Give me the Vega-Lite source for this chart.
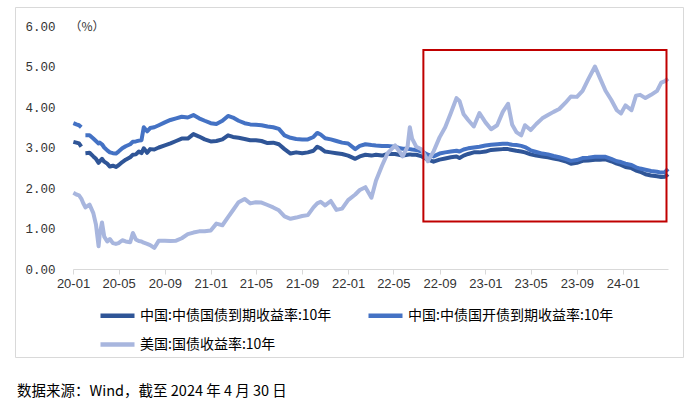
{
  "$schema": "https://vega.github.io/schema/vega-lite/v6.json",
  "width": 668,
  "height": 350,
  "padding": {"left": 15, "top": 7, "right": 17, "bottom": 0},
  "background": "white",
  "config": {
    "view": {"stroke": "#D9D9D9", "strokeWidth": 1},
    "font": "Noto Sans CJK SC"
  },
  "title": {
    "text": "数据来源：Wind，截至 2024 年 4 月 30 日",
    "orient": "bottom",
    "anchor": "start",
    "frame": "bounds",
    "offset": 28,
    "dx": 2,
    "fontSize": 14.5,
    "fontWeight": "normal",
    "font": "Noto Sans CJK SC",
    "color": "#000000"
  },
  "layer": [
    {
      "data": {
        "values": [
          {"date": "2020-01-02", "cgb": 3.14, "cdb": 3.60, "ust": 1.88},
          {"date": "2020-01-10", "cgb": 3.12, "cdb": 3.57, "ust": 1.84},
          {"date": "2020-01-17", "cgb": 3.10, "cdb": 3.55, "ust": 1.82},
          {"date": "2020-01-23", "cgb": 3.02, "cdb": 3.50, "ust": 1.74},
          {"date": "2020-01-28", "cgb": null, "cdb": null, "ust": 1.63},
          {"date": "2020-02-03", "cgb": 2.86, "cdb": 3.30, "ust": 1.52},
          {"date": "2020-02-14", "cgb": 2.87, "cdb": 3.30, "ust": 1.59},
          {"date": "2020-02-24", "cgb": 2.78, "cdb": 3.22, "ust": 1.38},
          {"date": "2020-03-02", "cgb": 2.72, "cdb": 3.16, "ust": 1.10},
          {"date": "2020-03-09", "cgb": 2.62, "cdb": 3.10, "ust": 0.56},
          {"date": "2020-03-12", "cgb": 2.66, "cdb": 3.12, "ust": 0.85},
          {"date": "2020-03-18", "cgb": 2.72, "cdb": 3.08, "ust": 1.15},
          {"date": "2020-03-24", "cgb": 2.65, "cdb": 3.00, "ust": 0.80},
          {"date": "2020-04-01", "cgb": 2.60, "cdb": 2.93, "ust": 0.68},
          {"date": "2020-04-08", "cgb": 2.53, "cdb": 2.88, "ust": 0.74},
          {"date": "2020-04-16", "cgb": 2.55, "cdb": 2.86, "ust": 0.64},
          {"date": "2020-04-24", "cgb": 2.52, "cdb": 2.85, "ust": 0.62},
          {"date": "2020-05-01", "cgb": 2.56, "cdb": 2.90, "ust": 0.64},
          {"date": "2020-05-11", "cgb": 2.64, "cdb": 2.98, "ust": 0.71},
          {"date": "2020-05-20", "cgb": 2.70, "cdb": 3.03, "ust": 0.68},
          {"date": "2020-06-01", "cgb": 2.76, "cdb": 3.08, "ust": 0.66},
          {"date": "2020-06-08", "cgb": 2.82, "cdb": 3.14, "ust": 0.89},
          {"date": "2020-06-16", "cgb": 2.83, "cdb": 3.15, "ust": 0.73},
          {"date": "2020-06-24", "cgb": 2.90, "cdb": 3.17, "ust": 0.69},
          {"date": "2020-07-01", "cgb": 2.86, "cdb": 3.18, "ust": 0.68},
          {"date": "2020-07-07", "cgb": 2.98, "cdb": 3.50, "ust": 0.65},
          {"date": "2020-07-16", "cgb": 2.87, "cdb": 3.40, "ust": 0.62},
          {"date": "2020-07-24", "cgb": 2.96, "cdb": 3.48, "ust": 0.59},
          {"date": "2020-08-04", "cgb": 2.95, "cdb": 3.50, "ust": 0.52},
          {"date": "2020-08-16", "cgb": 3.00, "cdb": 3.55, "ust": 0.70},
          {"date": "2020-09-01", "cgb": 3.05, "cdb": 3.62, "ust": 0.70},
          {"date": "2020-09-16", "cgb": 3.10, "cdb": 3.68, "ust": 0.69},
          {"date": "2020-10-01", "cgb": 3.16, "cdb": 3.72, "ust": 0.70},
          {"date": "2020-10-16", "cgb": 3.22, "cdb": 3.76, "ust": 0.76},
          {"date": "2020-11-01", "cgb": 3.22, "cdb": 3.74, "ust": 0.86},
          {"date": "2020-11-16", "cgb": 3.33, "cdb": 3.80, "ust": 0.90},
          {"date": "2020-12-01", "cgb": 3.27, "cdb": 3.72, "ust": 0.93},
          {"date": "2020-12-16", "cgb": 3.20, "cdb": 3.66, "ust": 0.93},
          {"date": "2021-01-01", "cgb": 3.15, "cdb": 3.60, "ust": 0.95},
          {"date": "2021-01-16", "cgb": 3.16, "cdb": 3.58, "ust": 1.12},
          {"date": "2021-02-01", "cgb": 3.20, "cdb": 3.66, "ust": 1.08},
          {"date": "2021-02-16", "cgb": 3.30, "cdb": 3.78, "ust": 1.28},
          {"date": "2021-03-01", "cgb": 3.26, "cdb": 3.74, "ust": 1.45},
          {"date": "2021-03-16", "cgb": 3.24, "cdb": 3.66, "ust": 1.65},
          {"date": "2021-04-01", "cgb": 3.21, "cdb": 3.60, "ust": 1.73},
          {"date": "2021-04-16", "cgb": 3.18, "cdb": 3.57, "ust": 1.62},
          {"date": "2021-05-01", "cgb": 3.18, "cdb": 3.56, "ust": 1.65},
          {"date": "2021-05-16", "cgb": 3.16, "cdb": 3.55, "ust": 1.64},
          {"date": "2021-06-01", "cgb": 3.11, "cdb": 3.52, "ust": 1.58},
          {"date": "2021-06-16", "cgb": 3.12, "cdb": 3.50, "ust": 1.52},
          {"date": "2021-07-01", "cgb": 3.08, "cdb": 3.46, "ust": 1.45},
          {"date": "2021-07-16", "cgb": 2.96, "cdb": 3.30, "ust": 1.30},
          {"date": "2021-08-01", "cgb": 2.85, "cdb": 3.24, "ust": 1.24},
          {"date": "2021-08-16", "cgb": 2.88, "cdb": 3.21, "ust": 1.27},
          {"date": "2021-09-01", "cgb": 2.86, "cdb": 3.20, "ust": 1.31},
          {"date": "2021-09-16", "cgb": 2.88, "cdb": 3.20, "ust": 1.33},
          {"date": "2021-10-01", "cgb": 2.92, "cdb": 3.26, "ust": 1.52},
          {"date": "2021-10-11", "cgb": 3.02, "cdb": 3.36, "ust": 1.62},
          {"date": "2021-10-20", "cgb": 2.98, "cdb": 3.32, "ust": 1.66},
          {"date": "2021-11-01", "cgb": 2.90, "cdb": 3.23, "ust": 1.57},
          {"date": "2021-11-16", "cgb": 2.88, "cdb": 3.20, "ust": 1.68},
          {"date": "2021-12-01", "cgb": 2.86, "cdb": 3.16, "ust": 1.46},
          {"date": "2021-12-16", "cgb": 2.84, "cdb": 3.12, "ust": 1.49},
          {"date": "2022-01-01", "cgb": 2.80, "cdb": 3.10, "ust": 1.70},
          {"date": "2022-01-20", "cgb": 2.72, "cdb": 2.96, "ust": 1.84},
          {"date": "2022-02-01", "cgb": 2.78, "cdb": 3.04, "ust": 1.95},
          {"date": "2022-02-16", "cgb": 2.82, "cdb": 3.08, "ust": 2.02},
          {"date": "2022-03-04", "cgb": 2.80, "cdb": 3.06, "ust": 1.76},
          {"date": "2022-03-16", "cgb": 2.82, "cdb": 3.05, "ust": 2.18},
          {"date": "2022-04-01", "cgb": 2.80, "cdb": 3.04, "ust": 2.55},
          {"date": "2022-04-16", "cgb": 2.84, "cdb": 3.04, "ust": 2.86},
          {"date": "2022-05-06", "cgb": 2.84, "cdb": 3.02, "ust": 3.05},
          {"date": "2022-05-16", "cgb": 2.82, "cdb": 2.99, "ust": 2.92},
          {"date": "2022-05-26", "cgb": 2.80, "cdb": 2.97, "ust": 2.78},
          {"date": "2022-06-08", "cgb": 2.82, "cdb": 2.97, "ust": 3.02},
          {"date": "2022-06-14", "cgb": 2.83, "cdb": 2.96, "ust": 3.50},
          {"date": "2022-06-20", "cgb": 2.82, "cdb": 2.95, "ust": 3.22},
          {"date": "2022-07-01", "cgb": 2.82, "cdb": 2.94, "ust": 3.02},
          {"date": "2022-07-16", "cgb": 2.78, "cdb": 2.90, "ust": 2.95},
          {"date": "2022-08-01", "cgb": 2.70, "cdb": 2.82, "ust": 2.66},
          {"date": "2022-08-16", "cgb": 2.65, "cdb": 2.78, "ust": 2.90},
          {"date": "2022-09-01", "cgb": 2.70, "cdb": 2.85, "ust": 3.25},
          {"date": "2022-09-16", "cgb": 2.73, "cdb": 2.88, "ust": 3.50},
          {"date": "2022-10-01", "cgb": 2.76, "cdb": 2.90, "ust": 3.85},
          {"date": "2022-10-16", "cgb": 2.78, "cdb": 2.92, "ust": 4.22},
          {"date": "2022-10-24", "cgb": 2.74, "cdb": 2.90, "ust": 4.15},
          {"date": "2022-11-04", "cgb": 2.80, "cdb": 2.95, "ust": 3.82},
          {"date": "2022-11-16", "cgb": 2.84, "cdb": 2.98, "ust": 3.68},
          {"date": "2022-12-01", "cgb": 2.88, "cdb": 3.00, "ust": 3.52},
          {"date": "2022-12-16", "cgb": 2.88, "cdb": 3.02, "ust": 3.85},
          {"date": "2023-01-01", "cgb": 2.90, "cdb": 3.05, "ust": 3.62},
          {"date": "2023-01-16", "cgb": 2.94, "cdb": 3.07, "ust": 3.45},
          {"date": "2023-02-01", "cgb": 2.95, "cdb": 3.08, "ust": 3.55},
          {"date": "2023-02-16", "cgb": 2.96, "cdb": 3.09, "ust": 3.88},
          {"date": "2023-03-02", "cgb": 2.96, "cdb": 3.09, "ust": 4.08},
          {"date": "2023-03-13", "cgb": 2.94, "cdb": 3.07, "ust": 3.56},
          {"date": "2023-03-24", "cgb": 2.92, "cdb": 3.06, "ust": 3.38},
          {"date": "2023-04-06", "cgb": 2.90, "cdb": 3.04, "ust": 3.30},
          {"date": "2023-04-16", "cgb": 2.88, "cdb": 3.01, "ust": 3.55},
          {"date": "2023-05-01", "cgb": 2.83, "cdb": 2.93, "ust": 3.43},
          {"date": "2023-05-16", "cgb": 2.80, "cdb": 2.89, "ust": 3.58},
          {"date": "2023-06-01", "cgb": 2.78, "cdb": 2.85, "ust": 3.72},
          {"date": "2023-06-16", "cgb": 2.76, "cdb": 2.83, "ust": 3.80},
          {"date": "2023-07-01", "cgb": 2.73, "cdb": 2.79, "ust": 3.88},
          {"date": "2023-07-16", "cgb": 2.70, "cdb": 2.76, "ust": 3.95},
          {"date": "2023-08-01", "cgb": 2.66, "cdb": 2.72, "ust": 4.10},
          {"date": "2023-08-16", "cgb": 2.60, "cdb": 2.67, "ust": 4.26},
          {"date": "2023-09-01", "cgb": 2.62, "cdb": 2.69, "ust": 4.25},
          {"date": "2023-09-16", "cgb": 2.67, "cdb": 2.74, "ust": 4.40},
          {"date": "2023-10-01", "cgb": 2.68, "cdb": 2.75, "ust": 4.68},
          {"date": "2023-10-19", "cgb": 2.70, "cdb": 2.77, "ust": 5.00},
          {"date": "2023-11-01", "cgb": 2.70, "cdb": 2.77, "ust": 4.72},
          {"date": "2023-11-16", "cgb": 2.71, "cdb": 2.77, "ust": 4.40},
          {"date": "2023-12-01", "cgb": 2.66, "cdb": 2.72, "ust": 4.18},
          {"date": "2023-12-16", "cgb": 2.60, "cdb": 2.66, "ust": 3.92},
          {"date": "2023-12-27", "cgb": 2.57, "cdb": 2.64, "ust": 3.84},
          {"date": "2024-01-08", "cgb": 2.52, "cdb": 2.60, "ust": 4.04},
          {"date": "2024-01-24", "cgb": 2.49, "cdb": 2.57, "ust": 3.92},
          {"date": "2024-02-05", "cgb": 2.43, "cdb": 2.51, "ust": 4.28},
          {"date": "2024-02-16", "cgb": 2.40, "cdb": 2.48, "ust": 4.30},
          {"date": "2024-03-01", "cgb": 2.34, "cdb": 2.45, "ust": 4.22},
          {"date": "2024-03-16", "cgb": 2.31, "cdb": 2.42, "ust": 4.30},
          {"date": "2024-04-01", "cgb": 2.29, "cdb": 2.40, "ust": 4.40},
          {"date": "2024-04-12", "cgb": 2.27, "cdb": 2.38, "ust": 4.60},
          {"date": "2024-04-22", "cgb": 2.28, "cdb": 2.39, "ust": 4.64},
          {"date": "2024-04-30", "cgb": 2.34, "cdb": 2.47, "ust": 4.70}
        ]
      },
      "transform": [{"fold": ["cgb", "cdb", "ust"], "as": ["series", "value"]}],
      "mark": {"type": "line", "strokeWidth": 4, "strokeJoin": "round", "invalid": "break-paths-show-domains"},
      "encoding": {
        "x": {
          "field": "date",
          "type": "temporal",
          "scale": {
            "domain": [{"year": 2020, "month": 1, "date": 1}, {"year": 2024, "month": 4, "date": 30}],
            "range": [58, 653],
            "nice": false
          },
          "axis": {
            "title": null,
            "format": "%y-%m",
            "tickCount": {"interval": "month", "step": 4},
            "labelFont": "Liberation Sans",
            "labelFontSize": 13,
            "labelColor": "#333333",
            "labelFlush": false,
            "labelOverlap": false,
            "domainColor": "#D9D9D9",
            "tickColor": "#D9D9D9",
            "tickSize": 5,
            "labelPadding": 3,
            "grid": false,
            "offset": -88
          }
        },
        "y": {
          "field": "value",
          "type": "quantitative",
          "scale": {"domain": [0, 6], "range": [262, 19], "nice": false},
          "axis": {
            "title": "（%）",
            "titleAngle": 0,
            "titleAlign": "left",
            "titleBaseline": "middle",
            "titleX": 12,
            "titleY": 19,
            "titleFont": "Noto Sans CJK SC",
            "titleFontSize": 12,
            "titleFontWeight": "normal",
            "titleColor": "#333333",
            "values": [0, 1, 2, 3, 4, 5, 6],
            "format": ".2f",
            "labelFont": "Liberation Mono",
            "labelFontSize": 12.5,
            "labelColor": "#333333",
            "domain": false,
            "ticks": false,
            "grid": false,
            "labelPadding": 2,
            "offset": -42
          }
        },
        "color": {
          "field": "series",
          "type": "nominal",
          "scale": {"domain": ["cgb", "cdb", "ust"], "range": ["#2F5597", "#4472C4", "#A8B6DE"]},
          "legend": {
            "orient": "none",
            "legendX": 83,
            "legendY": 289,
            "direction": "horizontal",
            "columns": 2,
            "title": null,
            "symbolType": "stroke",
            "symbolSize": 1156,
            "symbolStrokeWidth": 4.5,
            "labelFont": "Noto Sans CJK SC",
            "labelFontSize": 14,
            "labelColor": "#000000",
            "labelOffset": 3,
            "labelLimit": 400,
            "columnPadding": 27,
            "rowPadding": -14,
            "padding": 0,
            "labelExpr": "datum.label == 'cgb' ? '中国:中债国债到期收益率:10年' : datum.label == 'cdb' ? '中国:中债国开债到期收益率:10年' : '美国:国债收益率:10年'"
          }
        }
      }
    },
    {
      "data": {"values": [{"date": "2022-07-20", "date2": "2024-04-26", "value": 5.41, "value2": 1.17}]},
      "mark": {"type": "rect", "filled": false, "stroke": "#C00000", "strokeWidth": 2},
      "encoding": {
        "x": {"field": "date", "type": "temporal"},
        "x2": {"field": "date2"},
        "y": {"field": "value", "type": "quantitative"},
        "y2": {"field": "value2"}
      }
    }
  ]
}
